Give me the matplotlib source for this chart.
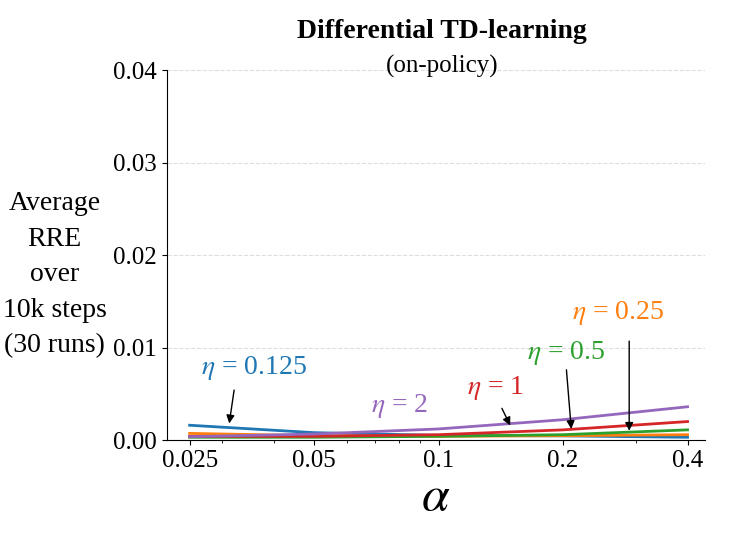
import matplotlib
matplotlib.use("Agg")
import matplotlib.pyplot as plt
import matplotlib.ticker as mticker
import numpy as np

plt.rcParams['font.family'] = ['Liberation Serif', 'DejaVu Serif']
plt.rcParams['mathtext.fontset'] = 'stix'

# step sizes (alpha) and average RRE per eta
alphas = [0.025, 0.05, 0.1, 0.2, 0.4]
rre_eta_0125 = [0.0016, 0.0008, 0.0005, 0.00045, 0.0003]
rre_eta_025 = [0.00072, 0.00047, 0.0004, 0.00047, 0.00058]
rre_eta_05 = [0.0003, 0.0003, 0.0004, 0.00058, 0.0011]
rre_eta_1 = [0.0004, 0.0004, 0.00058, 0.0011, 0.002]
rre_eta_2 = [0.00036, 0.00065, 0.0012, 0.0022, 0.0036]

tick_labels = ['0.025', '0.05', '0.1', '0.2', '0.4']

fig = plt.figure(figsize=(7.31, 5.48), dpi=100)
ax = fig.add_axes([0.228, 0.197, 0.736, 0.675])

ax.plot(alphas, rre_eta_0125, color='#1f77b4', lw=2)
ax.plot(alphas, rre_eta_025, color='#ff7f0e', lw=2)
ax.plot(alphas, rre_eta_05, color='#2ca02c', lw=2)
ax.plot(alphas, rre_eta_1, color='#d62728', lw=2)
ax.plot(alphas, rre_eta_2, color='#9467bd', lw=2)

ax.set_xscale('log')
ax.set_xlim(0.022, 0.44)
ax.set_ylim(0, 0.04)
ax.xaxis.set_major_locator(mticker.FixedLocator(alphas))
ax.xaxis.set_major_formatter(mticker.FixedFormatter(tick_labels))
ax.xaxis.set_minor_locator(mticker.LogLocator(base=10, subs=np.arange(2, 10)))
ax.xaxis.set_minor_formatter(mticker.NullFormatter())
ax.set_yticks([0.0, 0.01, 0.02, 0.03, 0.04])
ax.set_yticklabels(['0.00', '0.01', '0.02', '0.03', '0.04'])
ax.tick_params(labelsize=18)
ax.grid(axis='y', linestyle='--', color='#dddddd', lw=0.8)

for s in ['top', 'right']:
    ax.spines[s].set_visible(False)

# annotations
arr = dict(arrowstyle='-|>', color='black', lw=1, mutation_scale=12)
ax.annotate('', xy=(0.0311, 0.0015), xytext=(0.0321, 0.0057), arrowprops=arr)
ax.text(0.0358, 0.0078, r'$\eta$ = 0.125', color='#1f77b4', fontsize=20, ha='center', va='center')
ax.text(0.0805, 0.0037, r'$\eta$ = 2', color='#9467bd', fontsize=20, ha='center', va='center')
ax.annotate('', xy=(0.150, 0.0013), xytext=(0.1413, 0.0037), arrowprops=arr)
ax.text(0.137, 0.0056, r'$\eta$ = 1', color='#d62728', fontsize=20, ha='center', va='center')
ax.annotate('', xy=(0.2096, 0.0009), xytext=(0.2035, 0.0079), arrowprops=arr)
ax.text(0.203, 0.0094, r'$\eta$ = 0.5', color='#2ca02c', fontsize=20, ha='center', va='center')
ax.annotate('', xy=(0.289, 0.0007), xytext=(0.289, 0.011), arrowprops=arr)
ax.text(0.271, 0.0137, r'$\eta$ = 0.25', color='#ff7f0e', fontsize=20, ha='center', va='center')

ax.set_xlabel(r'$\alpha$', fontsize=36, labelpad=2)
ax.set_ylabel('Average\nRRE\nover\n10k steps\n(30 runs)', fontsize=20, rotation=0,
              ha='center', va='center', linespacing=1.55)
ax.yaxis.set_label_coords(-0.208, 0.447)

fig.text(0.605, 0.942, 'Differential TD-learning', fontsize=20, fontweight='bold', ha='center', va='center')
fig.text(0.605, 0.879, '(on-policy)', fontsize=18, ha='center', va='center')

plt.savefig('out.png', dpi=100)
